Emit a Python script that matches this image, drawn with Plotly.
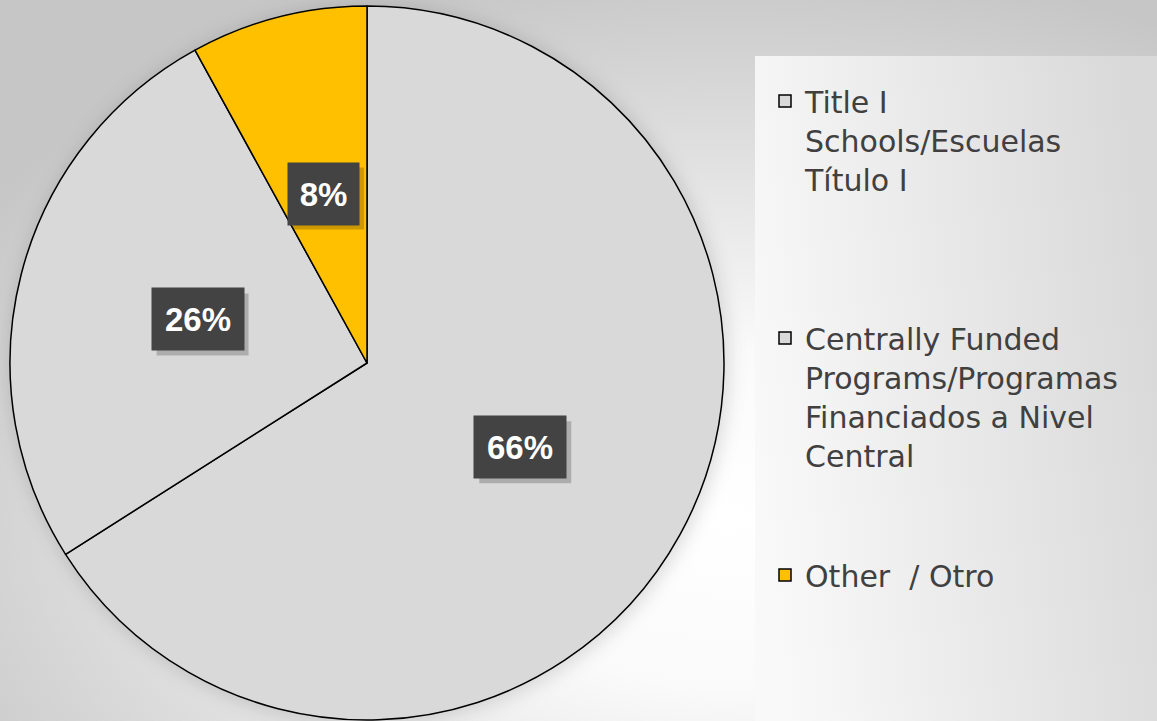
import base64
import math
import plotly.graph_objects as go

# ---------- data ----------
labels = [
    "Title I<br>Schools/Escuelas<br>Título I<br> <br> <br> ",
    "Centrally Funded<br>Programs/Programas<br>Financiados a Nivel<br>Central<br> <br> ",
    "Other  / Otro",
]
shares = [66, 26, 8]
colors = ["#D9D9D9", "#D9D9D9", "#FFC000"]

W, H = 1157, 721

# pie placement in pixels
cx, cy, R = 367, 363, 357

# ---------- background (gradient, pie shadow, legend panel) ----------
svg = f"""<svg xmlns='http://www.w3.org/2000/svg' width='{W}' height='{H}'>
<defs>
<radialGradient id='bg' cx='0.63' cy='0.72' r='0.78'>
<stop offset='0' stop-color='#ffffff'/><stop offset='0.3' stop-color='#fafafa'/><stop offset='1' stop-color='#c6c6c6'/>
</radialGradient>
<linearGradient id='pn' x1='0' y1='0.6' x2='1' y2='0.4'>
<stop offset='0' stop-color='#f9f9f9'/><stop offset='1' stop-color='#d9d9d9'/>
</linearGradient>
<filter id='bl' x='-20%' y='-20%' width='140%' height='140%'><feGaussianBlur stdDeviation='9'/></filter>
</defs>
<rect width='{W}' height='{H}' fill='url(#bg)'/>
<circle cx='{cx + 2}' cy='{cy + 2}' r='{R + 3}' fill='#000' fill-opacity='0.13' filter='url(#bl)'/>
<rect x='755' y='56' width='{W - 755}' height='{H - 56}' fill='url(#pn)'/>
</svg>"""
bg_src = "data:image/svg+xml;base64," + base64.b64encode(svg.encode()).decode()

fig = go.Figure(go.Pie(
    labels=labels,
    values=shares,
    sort=False,
    direction="clockwise",
    rotation=0,
    marker=dict(colors=colors, line=dict(color="#000000", width=1.5)),
    textinfo="none",
    hoverinfo="label+percent",
    domain=dict(x=[(cx - R) / W, (cx + R) / W], y=[(H - cy - R) / H, (H - cy + R) / H]),
))

# percentage labels in dark boxes at mid-angle of each slice
total = sum(shares)
cum = 0
pad = 12
for v in shares:
    mid = (cum + v / 2) / total * 2 * math.pi
    cum += v
    px = cx + 0.49 * R * math.sin(mid)
    py = cy - 0.49 * R * math.cos(mid)
    pct = f"{round(v / total * 100)}%"
    bw = 21 * len(pct) + 5
    bh = 38
    # drop shadow behind the box
    sw, sh = bw / 2 + pad, bh / 2 + pad
    fig.add_shape(
        type="rect", xref="paper", yref="paper",
        x0=(px - sw + 5) / W, x1=(px + sw + 5) / W,
        y0=1 - (py + sh + 5) / H, y1=1 - (py - sh + 5) / H,
        fillcolor="rgba(0,0,0,0.2)", line_width=0,
    )
    fig.add_annotation(
        x=px / W, y=1 - py / H, xref="paper", yref="paper",
        xanchor="center", yanchor="middle", width=bw, height=bh,
        text=f"<b>{pct}</b>", showarrow=False, bgcolor="#434343",
        font=dict(family="Liberation Sans, Arial", size=33, color="#ffffff"),
        borderpad=pad,
    )

fig.add_layout_image(
    source=bg_src, xref="paper", yref="paper", x=0, y=1, sizex=1, sizey=1,
    xanchor="left", yanchor="top", sizing="stretch", layer="below",
)

fig.update_layout(
    width=W,
    height=H,
    margin=dict(l=0, r=0, t=0, b=0),
    paper_bgcolor="#eeeeee",
    plot_bgcolor="rgba(0,0,0,0)",
    showlegend=True,
    legend=dict(
        x=765 / W, y=1 - 75 / H, xanchor="left", yanchor="top",
        valign="top",
        font=dict(family="DejaVu Sans", size=30, color="#404040"),
        bgcolor="rgba(0,0,0,0)",
    ),
)

fig.write_html(
    "out.html",
    config={"displayModeBar": False},
    post_script="document.body.style.margin='0';",
)
